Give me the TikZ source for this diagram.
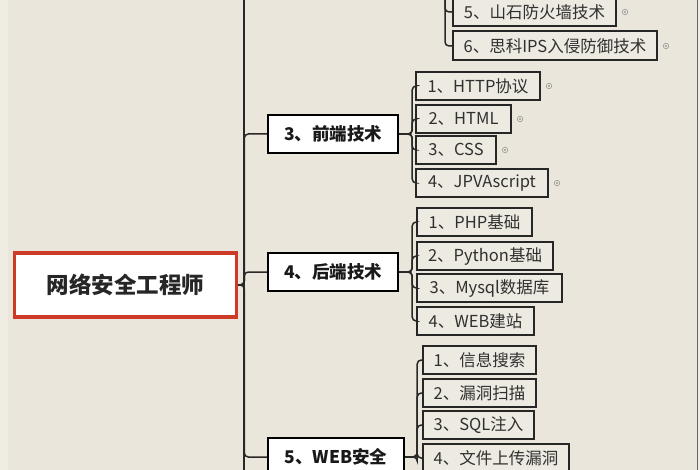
\documentclass[tikz,border=0pt]{standalone}
\usepackage{fontspec}
\usepackage{xcolor}
\usetikzlibrary{positioning}
\newfontfamily\cjk{Noto Sans CJK SC}

\definecolor{paper}{RGB}{234,230,220}
\definecolor{leaffill}{RGB}{237,234,226}
\definecolor{rootred}{RGB}{206,58,40}
\definecolor{linegray}{RGB}{40,40,38}
\definecolor{leaftext}{RGB}{48,48,46}

\tikzset{
    rootbox/.style={draw=rootred, line width=3.5pt, fill=white, minimum width=222pt, minimum height=64pt,
        font=\cjk\bfseries\fontsize{22.5}{22.5}\selectfont, text=black!85},
    groupbox/.style={draw=black, line width=2.2pt, fill=white, minimum height=38pt, anchor=west,
        font=\cjk\bfseries\fontsize{17.5}{17.5}\selectfont, text=black!90},
    leafbox/.style={draw=black!85, line width=2pt, fill=leaffill, minimum height=28pt, anchor=west,
        font=\cjk\fontsize{16.5}{16.5}\selectfont, text=leaftext},
    conn/.style={draw=linegray, line width=1.5pt, rounded corners=4pt},
    dotmark/.style={circle, draw=black!45, line width=0.5pt, fill=paper, inner sep=0pt, minimum size=5.5pt,
        path picture={\fill[black!55] (path picture bounding box.center) circle (0.9pt);}}
}

\begin{document}
\begin{tikzpicture}[x=1pt, y=-1pt]
    % Page
    \useasboundingbox (0,0) rectangle (700,470);
    \clip (0,0) rectangle (700,470);
    \fill[paper] (0,0) rectangle (700,470);
    \fill[white, opacity=0.25] (0,0) rectangle (8,470);
    \draw[black!60, line width=1pt] (697,0) -- (697,470);
    \fill[white, opacity=0.3] (698,0) rectangle (700,470);

    % Root
    \node[rootbox] (root) at (125.5,285) {网络安全工程师};

    % Trunk
    \coordinate (trunkTop) at (244,-5);
    \coordinate (trunkBot) at (244,475);
    \draw[conn] (trunkTop) -- (trunkBot);
    \draw[conn] (root.east) -- (trunkBot |- root.east);

    % Groups
    \node[groupbox, minimum width=130pt] (front) at (267,134) {3、前端技术};
    \node[groupbox, minimum width=130pt] (back) at (267,272) {4、后端技术};
    \node[groupbox, minimum width=136pt] (websec) at (267,457) {5、WEB安全};

    \draw[conn] (root.east) -- ++(6,0) |- (front.west);
    \draw[conn] (root.east) -- ++(6,0) |- (back.west);
    \draw[conn] (root.east) -- ++(6,0) |- (websec.west);

    % Leaves of the group above
    \coordinate (upper) at (445,-10);
    \node[leafbox, minimum width=163pt] (shanshi) at (452,12) {5、山石防火墙技术};
    \node[leafbox, minimum width=204pt, minimum height=29pt] (cisco) at (452,46) {6、思科IPS入侵防御技术};
    \draw[conn] (upper) |- (shanshi.west);
    \draw[conn] (upper) |- (cisco.west);

    % Front-end leaves
    \node[leafbox, minimum width=124pt] (http) at (415,86) {1、HTTP协议};
    \node[leafbox, minimum width=95pt] (html) at (415,119) {2、HTML};
    \node[leafbox, minimum width=80pt] (css) at (415,150) {3、CSS};
    \node[leafbox, minimum width=132pt] (jpva) at (415,183) {4、JPVAscript};
    \draw[conn] (front.east) -- ++(13,0) |- (http.west);
    \draw[conn] (front.east) -- ++(13,0) |- (html.west);
    \draw[conn] (front.east) -- ++(13,0) |- (css.west);
    \draw[conn] (front.east) -- ++(13,0) |- (jpva.west);

    % Back-end leaves
    \node[leafbox, minimum width=115pt] (php) at (416,222) {1、PHP基础};
    \node[leafbox, minimum width=136pt] (python) at (416,256) {2、Python基础};
    \node[leafbox, minimum width=145pt] (mysql) at (416,288) {3、Mysql数据库};
    \node[leafbox, minimum width=117pt] (site) at (416,321) {4、WEB建站};
    \draw[conn] (back.east) -- ++(13,0) |- (php.west);
    \draw[conn] (back.east) -- ++(13,0) |- (python.west);
    \draw[conn] (back.east) -- ++(13,0) |- (mysql.west);
    \draw[conn] (back.east) -- ++(13,0) |- (site.west);

    % Web security leaves
    \node[leafbox, minimum width=113pt] (info) at (422,360) {1、信息搜索};
    \node[leafbox, minimum width=113pt] (scan) at (422,393) {2、漏洞扫描};
    \node[leafbox, minimum width=111pt] (sqli) at (422,425) {3、SQL注入};
    \node[leafbox, minimum width=146pt] (upload) at (422,458) {4、文件上传漏洞};
    \draw[conn] (websec.east) -- ++(12,0) |- (info.west);
    \draw[conn] (websec.east) -- ++(12,0) |- (scan.west);
    \draw[conn] (websec.east) -- ++(12,0) |- (sqli.west);
    \draw[conn] (websec.east) -- ++(12,0) |- (upload.west);

    % Collapse marks
    \node[dotmark, right=5pt of shanshi.east] (mShanshi) {};
    \node[dotmark, right=5pt of cisco.east] (mCisco) {};
    \node[dotmark, right=5pt of http.east] (mHttp) {};
    \node[dotmark, right=5pt of html.east] (mHtml) {};
    \node[dotmark, right=5pt of css.east] (mCss) {};
    \node[dotmark, right=5pt of jpva.east] (mJpva) {};
\end{tikzpicture}
\end{document}
